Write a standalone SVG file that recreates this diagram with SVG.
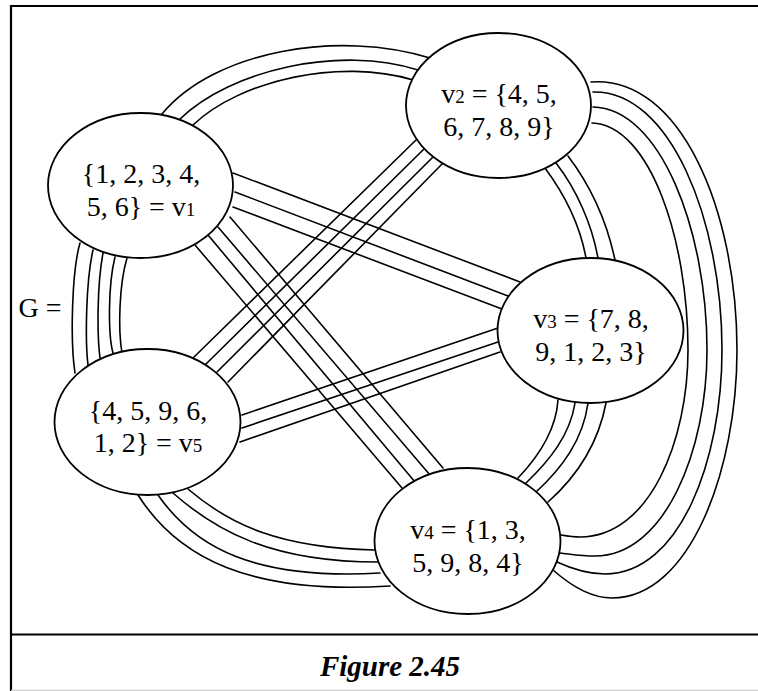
<svg xmlns="http://www.w3.org/2000/svg" width="758" height="691" viewBox="0 0 758 691">
<style>
.frame{stroke:#000;stroke-width:2.2;fill:none}
.e{fill:none;stroke:#000;stroke-width:1.6;stroke-linecap:round}
.n{fill:#fff;stroke:#000;stroke-width:1.8}
.t{font-family:"Liberation Serif","Times New Roman",serif;font-size:28px;fill:#000;text-anchor:middle}
.s{font-size:19px}
.cap{font-family:"Liberation Serif","Times New Roman",serif;font-size:29px;font-weight:bold;font-style:italic;fill:#000;text-anchor:middle}
</style>
<rect x="0" y="0" width="758" height="691" fill="#fff"/>
<g id="frame">
<path class="frame" d="M11,691 V6 H758"/>
<path class="frame" d="M11,634.5 H758"/>
<path d="M11,690.5 H758" stroke="#d0d0d0" stroke-width="1.5" fill="none"/>
</g>
<g id="connectors">
<!-- v1-v2 -->
<path class="e" d="M162,114 C215,50 340,30 430,58"/>
<path class="e" d="M180,119 C230,70 340,45 418,70"/>
<path class="e" d="M193,125 C240,80 340,58 413,80"/>
<!-- v2-v3 -->
<path class="e" d="M545,168 C565,195 580,225 586,258"/>
<path class="e" d="M556,163 C577,190 592,225 598,258"/>
<path class="e" d="M568,156 C590,185 607,222 615,260"/>
<!-- v2-v4 -->
<path class="e" d="M592,123 C650,125 688,240 688,350 C688,440 650,537 580,537 C573,537 567,536 561,535"/>
<path class="e" d="M593,107 C660,108 707,230 707,350 C707,450 665,556 595,556 C580,556 570,554 560,553"/>
<path class="e" d="M593,92 C670,90 722,220 722,350 C722,460 680,574 605,574 C585,574 570,568 557,562"/>
<path class="e" d="M591,82 C680,75 737,210 737,350 C737,470 690,598 612,598 C590,598 570,585 553,570"/>
<!-- v3-v4 -->
<path class="e" d="M558,400 C556,430 540,455 518,478"/>
<path class="e" d="M575,403 C570,435 550,460 526,483"/>
<path class="e" d="M588,403 C583,440 562,468 536,492"/>
<path class="e" d="M606,403 C598,445 575,478 548,502"/>
<!-- v4-v5 -->
<path class="e" d="M188,489 C230,525 280,548 375,550"/>
<path class="e" d="M173,493 C215,530 270,562 378,562"/>
<path class="e" d="M158,495 C195,548 255,580 380,573"/>
<path class="e" d="M138,495 C178,558 250,595 390,586"/>
<!-- v1-v5 -->
<path class="e" d="M80,243 C72,270 70,340 75,373"/>
<path class="e" d="M93,250 C86,280 85,340 88,365"/>
<path class="e" d="M103,253 C97,285 97,335 100,358"/>
<path class="e" d="M115,257 C108,285 108,335 113,353"/>
<path class="e" d="M127,258 C119,285 118,330 122,353"/>
<!-- v1-v3 -->
<path class="e" d="M233,173 L520,282"/>
<path class="e" d="M235,192 L508,296"/>
<path class="e" d="M233,207 L502,309"/>
<!-- v2-v5 -->
<path class="e" d="M416,140 L193,358"/>
<path class="e" d="M425,148 L205,365"/>
<path class="e" d="M433,157 L217,372"/>
<path class="e" d="M443,163 L228,382"/>
<!-- v1-v4 -->
<path class="e" d="M195,245 L402,488"/>
<path class="e" d="M208,235 L415,482"/>
<path class="e" d="M218,227 L430,475"/>
<path class="e" d="M230,217 L443,468"/>
<!-- v3-v5 -->
<path class="e" d="M242,415 L498,328"/>
<path class="e" d="M242,428 L498,342"/>
<path class="e" d="M240,442 L500,352"/>
</g>
<g id="v1">
<ellipse class="n" cx="140.5" cy="185.5" rx="92.5" ry="72.5"/>
<text class="t" x="141" y="183">{1, 2, 3, 4,</text>
<text class="t" x="141" y="216">5, 6} = v<tspan class="s">1</tspan></text>
</g>
<g id="v2">
<ellipse class="n" cx="498.5" cy="105.5" rx="92.5" ry="72.5"/>
<text class="t" x="499" y="103">v<tspan class="s">2</tspan> = {4, 5,</text>
<text class="t" x="499" y="136">6, 7, 8, 9}</text>
</g>
<g id="v3">
<ellipse class="n" cx="590.5" cy="330.5" rx="93" ry="72.5"/>
<text class="t" x="591" y="328">v<tspan class="s">3</tspan> = {7, 8,</text>
<text class="t" x="591" y="361">9, 1, 2, 3}</text>
</g>
<g id="v4">
<ellipse class="n" cx="467.5" cy="541" rx="93" ry="73"/>
<text class="t" x="468" y="539">v<tspan class="s">4</tspan> = {1, 3,</text>
<text class="t" x="468" y="572">5, 9, 8, 4}</text>
</g>
<g id="v5">
<ellipse class="n" cx="147.5" cy="422" rx="93" ry="73"/>
<text class="t" x="148" y="420">{4, 5, 9, 6,</text>
<text class="t" x="148" y="452">1, 2} = v<tspan class="s">5</tspan></text>
</g>
<text class="t" x="40" y="317">G =</text>
<text class="cap" x="390" y="676">Figure 2.45</text>
</svg>
